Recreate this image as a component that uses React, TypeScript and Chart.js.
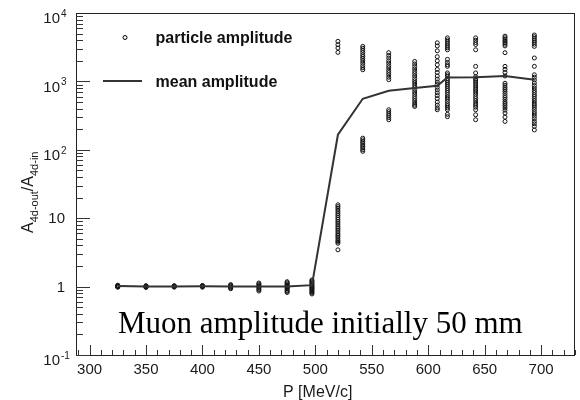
import React, { useEffect, useRef } from "react";
import { Chart, registerables } from "chart.js";

Chart.register(...registerables);

// Beam momentum (MeV/c) of each sample
const momenta = [325, 350, 375, 400, 425, 450, 475, 497, 520, 542, 565, 588, 608, 617, 642, 668, 694];
// Mean amplitude ratio per momentum
const meanAmplitude = [1.02, 1.0, 1.0, 1.01, 1.0, 1.0, 1.0, 1.05, 166, 557, 731, 800, 865, 1143, 1150, 1200, 1060];

// Individual particle amplitude ratios per momentum
const amp325 = [0.98, 1.0, 1.02, 1.03, 1.05, 1.01, 0.99];
const amp350 = [0.97, 0.99, 1.0, 1.01, 1.02, 1.03];
const amp375 = [0.98, 1.0, 1.01, 1.02, 1.03];
const amp400 = [0.98, 1.0, 1.01, 1.02, 1.04];
const amp425 = [0.93, 0.96, 0.99, 1.01, 1.04, 1.07];
const amp450 = [0.86, 0.9, 0.94, 0.98, 1.01, 1.05, 1.09, 1.13];
const amp475 = [0.82, 0.85, 0.88, 0.92, 0.95, 0.98, 1.0, 1.03, 1.06, 1.1, 1.14, 1.18];
const amp497 = [0.78, 0.81, 0.84, 0.87, 0.9, 0.93, 0.96, 0.99, 1.02, 1.05, 1.09, 1.13, 1.17, 1.21, 1.25];
const amp520 = [3855, 3443, 3076, 2655, 15.7, 14.8, 14, 13.2, 12.4, 11.6, 10.9, 10.2, 9.6, 9, 8.5, 8, 7.5, 7.1, 6.7, 6.3, 5.9, 5.6, 5.3, 5, 4.7, 4.5, 4.3, 3.45];
const amp542 = [3250, 3050, 2850, 2650, 2450, 2300, 2150, 2000, 1850, 1700, 1580, 1480, 148, 140, 132, 125, 118, 112, 106, 100, 95];
const amp565 = [2630, 2400, 2200, 2000, 1850, 1700, 1580, 1450, 1350, 1250, 1150, 1060, 385, 360, 335, 315, 295, 275];
const amp588 = [1960, 1800, 1650, 1520, 1400, 1300, 1200, 1100, 1020, 950, 880, 820, 760, 700, 650, 600, 560, 520, 480, 450, 430];
const amp608 = [3670, 3300, 2800, 2300, 2000, 1750, 1500, 1350, 1200, 1080, 980, 900, 820, 750, 680, 620, 560, 500, 450, 410, 385];
const amp617 = [4330, 4050, 3800, 3550, 3300, 3100, 2900, 2100, 1900, 1750, 1660, 1330, 1250, 1180, 1100, 1030, 970, 910, 850, 790, 740, 690, 640, 590, 550, 510, 470, 440, 410, 385, 330, 305];
const amp642 = [4330, 4000, 3700, 3460, 2900, 1660, 1330, 1170, 1100, 1040, 980, 920, 860, 800, 750, 700, 650, 600, 560, 520, 480, 450, 420, 385, 325, 275];
const amp668 = [4590, 4350, 4100, 3900, 3700, 3500, 3300, 2630, 1660, 1500, 1350, 1200, 940, 880, 820, 770, 720, 670, 620, 580, 540, 500, 470, 440, 410, 380, 345, 300, 260];
const amp694 = [4770, 4500, 4250, 4000, 3750, 3500, 3250, 2200, 1660, 1250, 1150, 1050, 950, 870, 800, 740, 690, 640, 600, 560, 520, 480, 450, 420, 390, 360, 335, 310, 285, 260, 240, 220, 195];

const particleAmplitudes = [amp325, amp350, amp375, amp400, amp425, amp450, amp475, amp497, amp520, amp542, amp565, amp588, amp608, amp617, amp642, amp668, amp694];

// Axis ticks
const xTickValues = [300, 350, 400, 450, 500, 550, 600, 650, 700];
const xTickLabels = ["300", "350", "400", "450", "500", "550", "600", "650", "700"];
const yTickValues = [0.1, 1, 10, 100, 1000, 10000];
const yTickBase = ["10", "1", "10", "10", "10", "10"];
const yTickExp = ["-1", "", "", "2", "3", "4"];

const xTitle = "P [MeV/c]";
const legendLabels = ["particle amplitude", "mean amplitude"];
const noteText = "Muon amplitude initially 50 mm";

const SANS = '"Liberation Sans", Arial, Helvetica, sans-serif';
const SERIF = '"Liberation Serif", "Times New Roman", serif';

const rootStylePlugin = {
  id: "rootStyle",
  afterDraw(chart: any) {
    const ctx = chart.ctx as CanvasRenderingContext2D;
    const area = chart.chartArea;
    const xs = chart.scales.x;
    const ys = chart.scales.y;
    ctx.save();

    // frame
    ctx.strokeStyle = "#222";
    ctx.lineWidth = 1;
    ctx.strokeRect(Math.round(area.left) + 0.5, Math.round(area.top) + 0.5, Math.round(area.right - area.left) - 1, Math.round(area.bottom - area.top));

    // y ticks (log)
    ctx.strokeStyle = "#333";
    ctx.beginPath();
    for (let d = -1; d <= 3; d++) {
      for (let k = 1; k <= 9; k++) {
        const v = k * Math.pow(10, d);
        const y = Math.round(ys.getPixelForValue(v)) + 0.5;
        const len = k === 1 ? 14 : 7;
        ctx.moveTo(area.left, y);
        ctx.lineTo(area.left + len, y);
      }
    }
    ctx.stroke();

    // x ticks
    ctx.beginPath();
    for (let v = 290; v <= 730; v += 10) {
      const x = Math.round(xs.getPixelForValue(v)) + 0.5;
      const len = v % 50 === 0 ? 10 : 5;
      ctx.moveTo(x, area.bottom);
      ctx.lineTo(x, area.bottom - len);
    }
    ctx.stroke();

    // x tick labels
    ctx.fillStyle = "#1a1a1a";
    ctx.font = `15px ${SANS}`;
    ctx.textAlign = "center";
    ctx.textBaseline = "alphabetic";
    xTickValues.forEach((v, i) => {
      ctx.fillText(xTickLabels[i], xs.getPixelForValue(v), 374);
    });

    // y tick labels
    yTickValues.forEach((v, i) => {
      const y = ys.getPixelForValue(v);
      ctx.textBaseline = "middle";
      if (yTickExp[i]) {
        ctx.font = `15px ${SANS}`;
        ctx.textAlign = "right";
        ctx.fillText(yTickBase[i], 60, y + 6);
        ctx.font = `10px ${SANS}`;
        ctx.textAlign = "left";
        ctx.fillText(yTickExp[i], 61, y + 1);
      } else {
        ctx.font = `15px ${SANS}`;
        ctx.textAlign = "right";
        ctx.fillText(yTickBase[i], 65, y + 1);
      }
    });

    // x title
    ctx.font = `16px ${SANS}`;
    ctx.textAlign = "left";
    ctx.textBaseline = "alphabetic";
    ctx.fillText(xTitle, 283, 397);

    // y title (rotated with subscripts)
    ctx.save();
    ctx.translate(33, 233);
    ctx.rotate(-Math.PI / 2);
    ctx.textAlign = "left";
    ctx.textBaseline = "alphabetic";
    let cx = 0;
    const main = `16px ${SANS}`;
    const sub = `11px ${SANS}`;
    const parts: [string, boolean][] = [["A", false], ["4d-out", true], ["/A", false], ["4d-in", true]];
    parts.forEach(([t, isSub]) => {
      ctx.font = isSub ? sub : main;
      ctx.fillText(t, cx, isSub ? 4.5 : 0);
      cx += ctx.measureText(t).width;
    });
    ctx.restore();

    // legend
    ctx.fillStyle = "#111";
    ctx.font = `bold 16px ${SANS}`;
    ctx.textAlign = "left";
    ctx.fillText(legendLabels[0], 155.5, 43);
    ctx.fillText(legendLabels[1], 155.5, 87);
    ctx.strokeStyle = "#000";
    ctx.lineWidth = 1;
    ctx.beginPath();
    ctx.arc(125, 37.5, 2, 0, Math.PI * 2);
    ctx.stroke();
    ctx.strokeStyle = "#333";
    ctx.lineWidth = 2;
    ctx.beginPath();
    ctx.moveTo(103, 81);
    ctx.lineTo(142, 81);
    ctx.stroke();

    // note
    ctx.fillStyle = "#000";
    ctx.font = `31px ${SERIF}`;
    ctx.fillText(noteText, 118, 333);

    ctx.restore();
  },
};

export default function App() {
  const canvasRef = useRef<HTMLCanvasElement | null>(null);

  useEffect(() => {
    const canvas = canvasRef.current;
    if (!canvas) return;
    const scatterData = momenta.flatMap((p, i) => particleAmplitudes[i].map((v) => ({ x: p, y: v })));
    const meanData = momenta.map((p, i) => ({ x: p, y: meanAmplitude[i] }));

    const chart = new Chart(canvas, {
      type: "scatter",
      data: {
        datasets: [
          {
            type: "line",
            label: legendLabels[1],
            data: meanData,
            borderColor: "#333",
            borderWidth: 2,
            pointRadius: 0,
            tension: 0,
            fill: false,
            order: 0,
          } as any,
          {
            type: "scatter",
            label: legendLabels[0],
            data: scatterData,
            pointStyle: "circle",
            pointRadius: 2,
            pointBorderWidth: 1,
            pointBorderColor: "#111",
            pointBackgroundColor: "rgba(0,0,0,0)",
            order: 1,
          } as any,
        ],
      },
      options: {
        responsive: false,
        animation: false,
        layout: { padding: { left: 76, top: 13, right: 1, bottom: 45 } },
        plugins: { legend: { display: false }, tooltip: { enabled: false } },
        scales: {
          x: { type: "linear", min: 288, max: 730, display: false },
          y: { type: "logarithmic", min: 0.1, max: 10000, display: false },
        },
      },
      plugins: [rootStylePlugin],
    });
    return () => chart.destroy();
  }, []);

  return (
    <div style={{ position: "fixed", left: 0, top: 0, width: 580, height: 400, background: "#fff" }}>
      <canvas ref={canvasRef} width={580} height={400} style={{ display: "block", width: 580, height: 400 }} />
    </div>
  );
}
